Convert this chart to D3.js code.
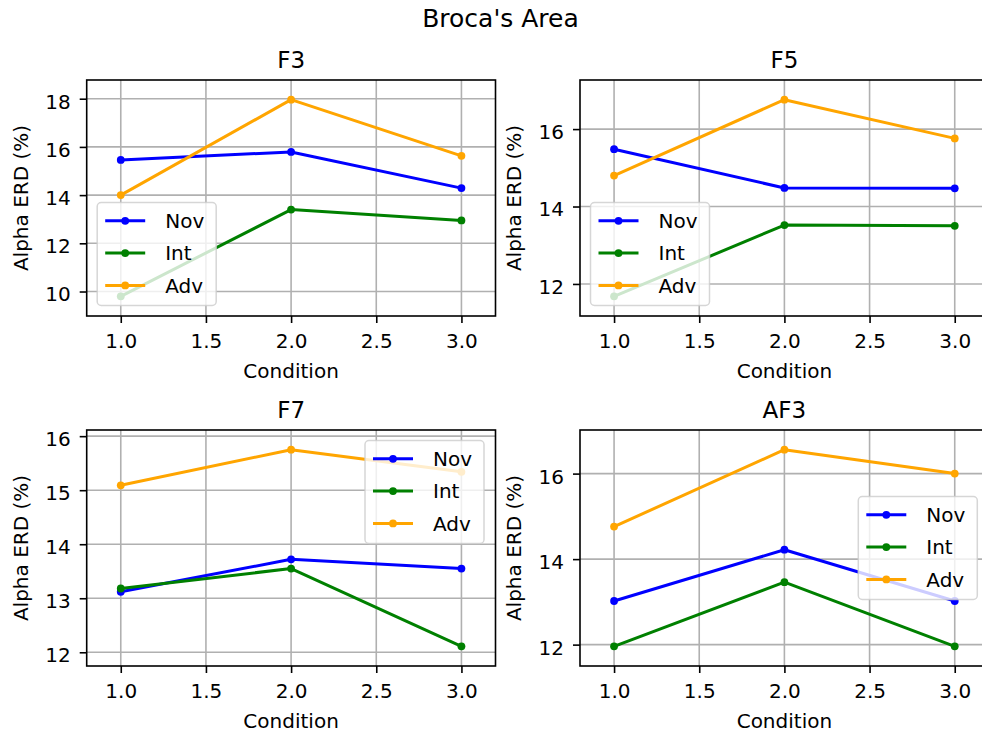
<!DOCTYPE html>
<html>
<head>
<meta charset="utf-8">
<script src="https://cdn.jsdelivr.net/npm/d3@7"></script>
<style>
  body { margin: 0; background: #fff; }
  svg { display: block; }
  text { font-family: "DejaVu Sans", sans-serif; fill: #000; }
</style>
</head>
<body>
<div id="chart"></div>
<script>
// Values
var channels = ["F3", "F5", "F7", "AF3"];
var groups = ["Nov", "Int", "Adv"];
var conditions = [1, 2, 3];
var novERD = [[15.46, 15.79, 14.29], [15.48, 14.48, 14.47], [13.12, 13.72, 13.55], [13.02, 14.22, 13.02]];
var intERD = [[9.80, 13.40, 12.95], [11.68, 13.52, 13.50], [13.18, 13.55, 12.11], [11.96, 13.46, 11.96]];
var advERD = [[14.00, 17.96, 15.63], [14.80, 16.76, 15.76], [15.09, 15.75, 15.34], [14.76, 16.56, 16.00]];
var xTicks = [1.0, 1.5, 2.0, 2.5, 3.0];
var yTicks = [[10, 12, 14, 16, 18], [12, 14, 16], [12, 13, 14, 15, 16], [12, 14, 16]];

var groupSeries = [novERD, intERD, advERD];
var groupColors = ["blue", "green", "orange"];
var legendLoc = ["lower left", "lower left", "upper right", "center right"];

// Layout
var width = 982;
var height = 736;
var panelW = 408.8;
var panelH = 236;
var panelLeft = [86.7, 580];
var panelTop = [80, 430];
var legendW = 119;
var legendH = 103;
var markerR = 3.9;

var svg = d3.select("#chart").append("svg")
  .attr("width", width)
  .attr("height", height);

svg.append("text")
  .attr("x", 500.5)
  .attr("y", 27)
  .attr("text-anchor", "middle")
  .style("font-size", "25px")
  .text("Broca's Area");

// pad a [min, max] extent by 10% on each side
function padded(ext) {
  var d = ext[1] - ext[0];
  return [ext[0] - 0.1 * d, ext[1] + 0.1 * d];
}

channels.forEach(function(name, i) {
  var left = panelLeft[i % 2];
  var top = panelTop[Math.floor(i / 2)];

  var allValues = d3.merge(groupSeries.map(function(s) { return s[i]; }));

  var xScale = d3.scaleLinear()
    .domain(padded(d3.extent(conditions)))
    .range([0, panelW]);
  var yScale = d3.scaleLinear()
    .domain(padded(d3.extent(allValues)))
    .range([panelH, 0]);

  var g = svg.append("g")
    .attr("transform", "translate(" + left + "," + top + ")");

  // Grid
  var grid = g.append("g").attr("class", "grid");
  grid.selectAll("line.gx")
    .data(xTicks)
    .enter().append("line")
    .attr("x1", function(d) { return xScale(d); })
    .attr("x2", function(d) { return xScale(d); })
    .attr("y1", 0)
    .attr("y2", panelH);
  grid.selectAll("line.gy")
    .data(yTicks[i])
    .enter().append("line")
    .attr("y1", function(d) { return yScale(d); })
    .attr("y2", function(d) { return yScale(d); })
    .attr("x1", 0)
    .attr("x2", panelW);
  grid.selectAll("line")
    .attr("stroke", "#b0b0b0")
    .attr("stroke-width", 1.6);

  // Series
  var line = d3.line()
    .x(function(d, j) { return xScale(conditions[j]); })
    .y(function(d) { return yScale(d); });

  groupSeries.forEach(function(series, k) {
    g.append("path")
      .datum(series[i])
      .attr("fill", "none")
      .attr("stroke", groupColors[k])
      .attr("stroke-width", 3)
      .attr("stroke-linejoin", "round")
      .attr("d", line);
    g.selectAll(null)
      .data(series[i])
      .enter().append("circle")
      .attr("cx", function(d, j) { return xScale(conditions[j]); })
      .attr("cy", function(d) { return yScale(d); })
      .attr("r", markerR)
      .attr("fill", groupColors[k]);
  });

  // Axes
  var xAxis = d3.axisBottom(xScale)
    .tickValues(xTicks)
    .tickSize(7)
    .tickFormat(d3.format(".1f"));
  var gx = g.append("g")
    .attr("transform", "translate(0," + panelH + ")")
    .call(xAxis);
  gx.select(".domain").remove();
  gx.selectAll("line").attr("stroke", "#000").attr("stroke-width", 1.6);
  gx.selectAll("text")
    .attr("y", 31.7)
    .attr("dy", null)
    .attr("fill", "#000")
    .style("font-size", "20px")
    .style("font-family", "DejaVu Sans, sans-serif");

  var yAxis = d3.axisLeft(yScale)
    .tickValues(yTicks[i])
    .tickSize(7)
    .tickFormat(d3.format("d"));
  var gy = g.append("g").call(yAxis);
  gy.select(".domain").remove();
  gy.selectAll("line").attr("stroke", "#000").attr("stroke-width", 1.6);
  gy.selectAll("text")
    .attr("x", -16)
    .attr("dy", "0.47em")
    .attr("fill", "#000")
    .style("font-size", "20px")
    .style("font-family", "DejaVu Sans, sans-serif");

  // Spines
  g.append("rect")
    .attr("width", panelW)
    .attr("height", panelH)
    .attr("fill", "none")
    .attr("stroke", "#000")
    .attr("stroke-width", 1.6);

  // Titles and labels
  g.append("text")
    .attr("x", panelW / 2)
    .attr("y", -12)
    .attr("text-anchor", "middle")
    .style("font-size", "23px")
    .text(name);

  g.append("text")
    .attr("x", panelW / 2)
    .attr("y", panelH + 62)
    .attr("text-anchor", "middle")
    .style("font-size", "20px")
    .text("Condition");

  g.append("text")
    .attr("transform", "translate(-59," + (panelH / 2) + ") rotate(-90)")
    .attr("text-anchor", "middle")
    .style("font-size", "20px")
    .text("Alpha ERD (%)");

  // Legend
  var lx, ly;
  if (legendLoc[i] === "lower left") {
    lx = 10.5; ly = panelH - 10.5 - legendH;
  } else if (legendLoc[i] === "upper right") {
    lx = panelW - 11.5 - legendW; ly = 10.5;
  } else {
    lx = panelW - 11.5 - legendW; ly = (panelH - legendH) / 2;
  }

  var legend = g.append("g")
    .attr("transform", "translate(" + lx + "," + ly + ")");
  legend.append("rect")
    .attr("width", legendW)
    .attr("height", legendH)
    .attr("rx", 4)
    .attr("fill", "#fff")
    .attr("fill-opacity", 0.8)
    .attr("stroke", "#cccccc")
    .attr("stroke-opacity", 0.8)
    .attr("stroke-width", 1.5);

  var items = legend.selectAll("g.item")
    .data(groups)
    .enter().append("g")
    .attr("transform", function(d, k) { return "translate(0," + (18.3 + k * 32.3) + ")"; });
  items.append("line")
    .attr("x1", 8)
    .attr("x2", 48)
    .attr("stroke", function(d, k) { return groupColors[k]; })
    .attr("stroke-width", 3);
  items.append("circle")
    .attr("cx", 28)
    .attr("r", markerR)
    .attr("fill", function(d, k) { return groupColors[k]; });
  items.append("text")
    .attr("x", 68)
    .attr("dy", "0.365em")
    .style("font-size", "20px")
    .text(function(d) { return d; });
});
</script>
</body>
</html>
